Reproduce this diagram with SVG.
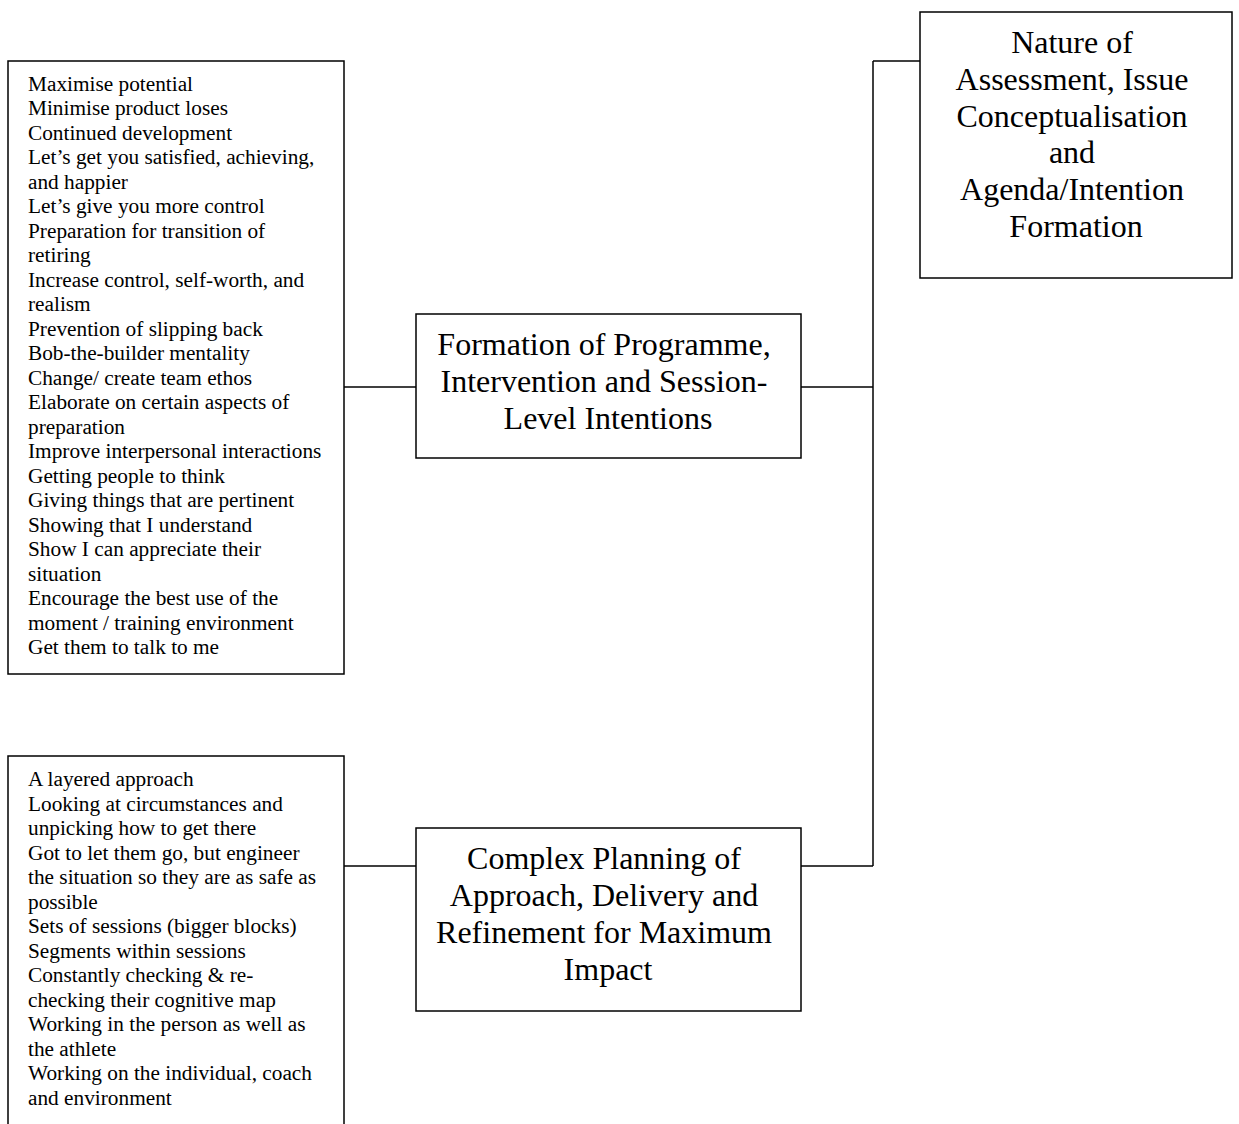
<svg xmlns="http://www.w3.org/2000/svg" width="1239" height="1124" viewBox="0 0 1239 1124">
<style>
.box{fill:#fff;stroke:#000;stroke-width:1.5}
.conn{fill:none;stroke:#000;stroke-width:1.5}
.s{font-family:"Liberation Serif","Times New Roman",serif;font-size:21.3px;fill:#000}
.b{font-family:"Liberation Serif","Times New Roman",serif;font-size:32px;fill:#000;text-anchor:middle}
</style>
<rect width="1239" height="1124" fill="#fff"/>
<g id="connectors">
<path class="conn" d="M344 387H416"/>
<path class="conn" d="M801 387H873"/>
<path class="conn" d="M873 61V866"/>
<path class="conn" d="M873 61H920"/>
<path class="conn" d="M801 866H873"/>
<path class="conn" d="M344 866H416"/>
</g>
<g id="intentions-list">
<rect class="box" x="8" y="61" width="336" height="613"/>
<text class="s" x="28" y="90.5">
<tspan x="28" dy="0">Maximise potential</tspan>
<tspan x="28" dy="24.5">Minimise product loses</tspan>
<tspan x="28" dy="24.5">Continued development</tspan>
<tspan x="28" dy="24.5">Let’s get you satisfied, achieving,</tspan>
<tspan x="28" dy="24.5">and happier</tspan>
<tspan x="28" dy="24.5">Let’s give you more control</tspan>
<tspan x="28" dy="24.5">Preparation for transition of</tspan>
<tspan x="28" dy="24.5">retiring</tspan>
<tspan x="28" dy="24.5">Increase control, self-worth, and</tspan>
<tspan x="28" dy="24.5">realism</tspan>
<tspan x="28" dy="24.5">Prevention of slipping back</tspan>
<tspan x="28" dy="24.5">Bob-the-builder mentality</tspan>
<tspan x="28" dy="24.5">Change/ create team ethos</tspan>
<tspan x="28" dy="24.5">Elaborate on certain aspects of</tspan>
<tspan x="28" dy="24.5">preparation</tspan>
<tspan x="28" dy="24.5">Improve interpersonal interactions</tspan>
<tspan x="28" dy="24.5">Getting people to think</tspan>
<tspan x="28" dy="24.5">Giving things that are pertinent</tspan>
<tspan x="28" dy="24.5">Showing that I understand</tspan>
<tspan x="28" dy="24.5">Show I can appreciate their</tspan>
<tspan x="28" dy="24.5">situation</tspan>
<tspan x="28" dy="24.5">Encourage the best use of the</tspan>
<tspan x="28" dy="24.5">moment / training environment</tspan>
<tspan x="28" dy="24.5">Get them to talk to me</tspan>
</text>
</g>
<g id="planning-list">
<rect class="box" x="8" y="756" width="336" height="400"/>
<text class="s" x="28" y="786">
<tspan x="28" dy="0">A layered approach</tspan>
<tspan x="28" dy="24.5">Looking at circumstances and</tspan>
<tspan x="28" dy="24.5">unpicking how to get there</tspan>
<tspan x="28" dy="24.5">Got to let them go, but engineer</tspan>
<tspan x="28" dy="24.5">the situation so they are as safe as</tspan>
<tspan x="28" dy="24.5">possible</tspan>
<tspan x="28" dy="24.5">Sets of sessions (bigger blocks)</tspan>
<tspan x="28" dy="24.5">Segments within sessions</tspan>
<tspan x="28" dy="24.5">Constantly checking &amp; re-</tspan>
<tspan x="28" dy="24.5">checking their cognitive map</tspan>
<tspan x="28" dy="24.5">Working in the person as well as</tspan>
<tspan x="28" dy="24.5">the athlete</tspan>
<tspan x="28" dy="24.5">Working on the individual, coach</tspan>
<tspan x="28" dy="24.5">and environment</tspan>
</text>
</g>
<g id="formation">
<rect class="box" x="416" y="314" width="385" height="144"/>
<text class="b" y="355">
<tspan x="608" dy="0">Formation of Programme,</tspan>
<tspan x="608" dy="37">Intervention and Session-</tspan>
<tspan x="608" dy="37">Level Intentions</tspan>
</text>
</g>
<g id="planning">
<rect class="box" x="416" y="828" width="385" height="183"/>
<text class="b" y="869">
<tspan x="608" dy="0">Complex Planning of</tspan>
<tspan x="608" dy="37">Approach, Delivery and</tspan>
<tspan x="608" dy="37">Refinement for Maximum</tspan>
<tspan x="608" dy="37">Impact</tspan>
</text>
</g>
<g id="assessment">
<rect class="box" x="920" y="12" width="312" height="266"/>
<text class="b" y="53">
<tspan x="1076" dy="0">Nature of</tspan>
<tspan x="1076" dy="36.8">Assessment, Issue</tspan>
<tspan x="1076" dy="36.8">Conceptualisation</tspan>
<tspan x="1076" dy="36.8">and</tspan>
<tspan x="1076" dy="36.8">Agenda/Intention</tspan>
<tspan x="1076" dy="36.8">Formation</tspan>
</text>
</g>
</svg>
